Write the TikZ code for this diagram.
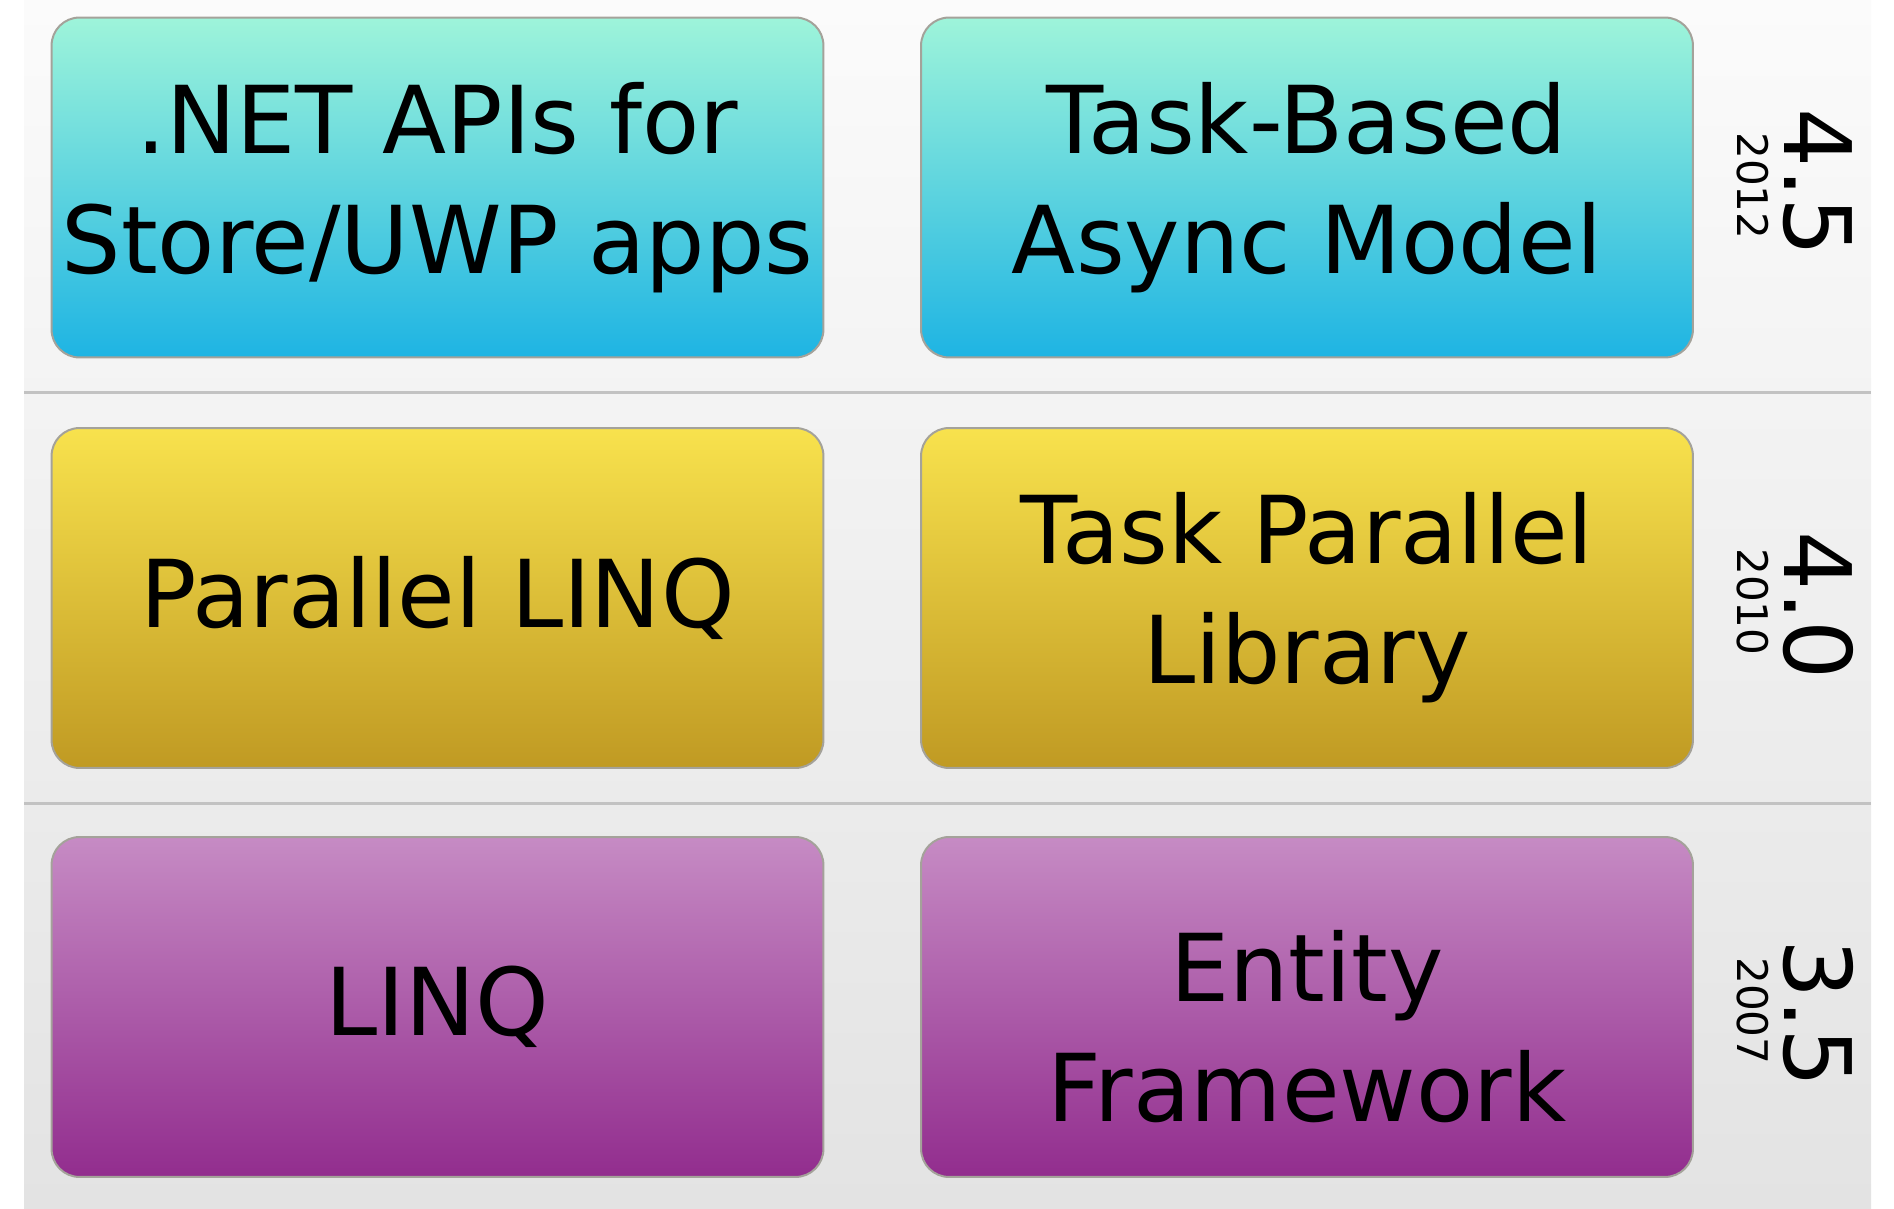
\documentclass[tikz,border=0pt]{standalone}
\usepackage{fontspec}
\setmainfont{DejaVu Sans}
\usetikzlibrary{positioning}

\definecolor{netTop}{HTML}{9EF4DA}
\definecolor{netBot}{HTML}{1EB4E3}
\definecolor{fourTop}{HTML}{F8E24D}
\definecolor{fourBot}{HTML}{C09A23}
\definecolor{threeTop}{HTML}{C68BC4}
\definecolor{threeBot}{HTML}{922D8E}
\definecolor{boxEdge}{HTML}{A4A29A}
\definecolor{bandTop}{HTML}{FBFBFB}
\definecolor{bandBot}{HTML}{E3E3E3}
\definecolor{sepLine}{HTML}{C2C2C2}

\begin{document}
\begin{tikzpicture}[
    x=0.02cm,
    y=-0.02cm,
    box/.style 2 args={draw=boxEdge, line width=0.04cm, rounded corners=0.56cm,
      top color=#1, bottom color=#2,
      minimum width=15.44cm, minimum height=6.8cm, inner sep=0},
    boxtext/.style={align=center, inner sep=0,
      font=\fontsize{53.3}{68.3}\selectfont},
    version/.style={rotate=-90, inner sep=0,
      font=\fontsize{53}{60}\selectfont},
    year/.style={rotate=-90, inner sep=0,
      font=\fontsize{24}{28}\selectfont}]

    \useasboundingbox (0,0) rectangle (1894,1209);

    % Background strip
    \fill[top color=bandTop, bottom color=bandBot] (24,0) rectangle (1871,1209);

    % Row separators
    \foreach \y in {393,803} {
      \draw[sepLine, line width=0.06cm] (24,\y) -- (1871,\y);
    }

    % 4.5 row
    \node[box={netTop}{netBot}] (api) at (437.5,187.5) {};
    \node[boxtext] (apiText) at (api.center) {.NET APIs for\\Store/UWP apps};

    \node[box={netTop}{netBot}] (tap) at (1307,187.5) {};
    \node[boxtext] (tapText) at (tap.center) {Task-Based\\Async Model};

    % 4.0 row
    \node[box={fourTop}{fourBot}] (plinq) at (437.5,598) {};
    \node[boxtext] (plinqText) at (plinq.center) {Parallel LINQ};

    \node[box={fourTop}{fourBot}] (tpl) at (1307,598) {};
    \node[boxtext] (tplText) at (tpl.center) {Task Parallel\\Library};

    % 3.5 row
    \node[box={threeTop}{threeBot}] (linq) at (437.5,1007) {};
    \node[boxtext] (linqText) at (linq.center) {LINQ};

    \node[box={threeTop}{threeBot}] (ef) at (1307,1007) {};
    \node[boxtext] (efText) at ([yshift=-0.4cm]ef.center) {Entity\\Framework};

    % Version labels
    \foreach \ver/\yr/\yv/\yy in {4.5/2012/183/186, 4.0/2010/606/602, 3.5/2007/1014/1011} {
      \node[version] (v\yr) at (1818,\yv) {\ver};
      \node[year] (y\yr) at (1753,\yy) {\yr};
    }
  \end{tikzpicture}
\end{document}
